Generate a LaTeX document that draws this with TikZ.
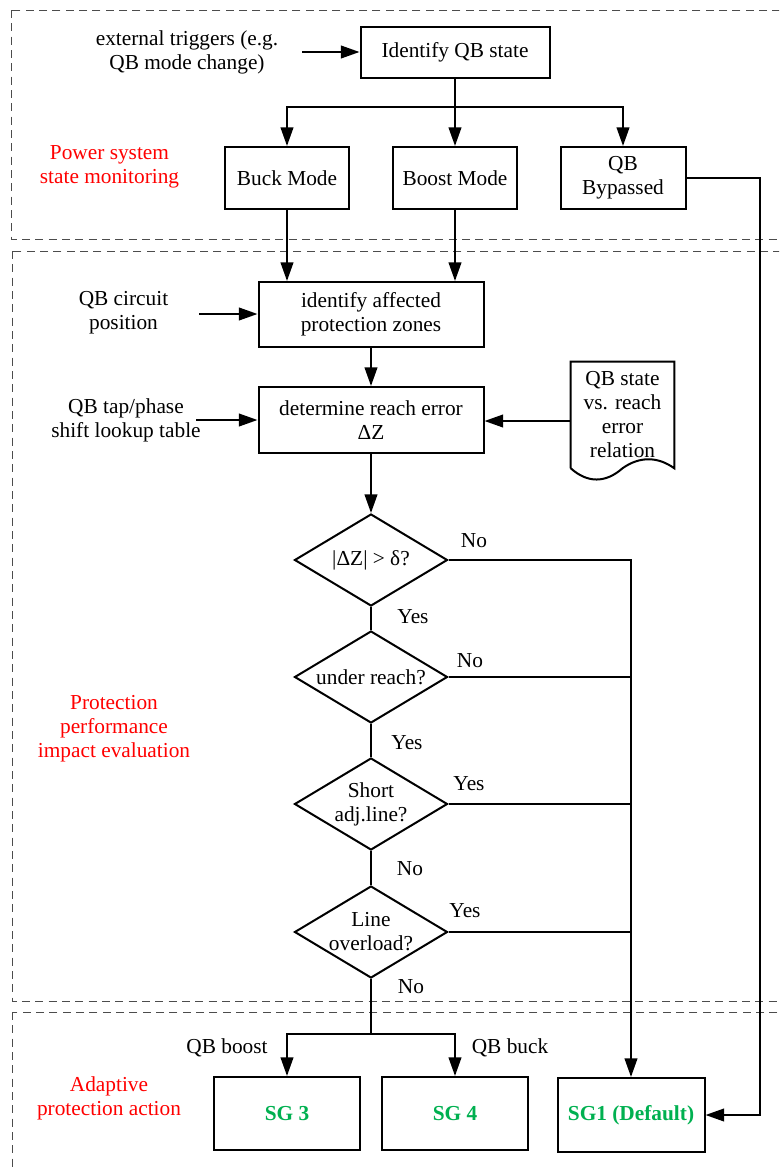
\documentclass[tikz,border=0pt]{standalone}
\usepackage{fontspec}
\setmainfont{Liberation Serif}
\usetikzlibrary{arrows.meta,shapes.geometric,calc}
\definecolor{sgreen}{HTML}{00B050}
\definecolor{sred}{HTML}{FF0000}
\begin{document}
\begin{tikzpicture}[x=0.75pt,y=-0.75pt,
  font=\fontsize{16}{18}\selectfont,
  box/.style={draw, line width=1.5pt, inner sep=2pt, align=center},
  dia/.style={draw, shape=diamond, line width=1.5pt, inner sep=0pt, aspect=1.66,
              minimum width=114.75pt, minimum height=69pt, align=center},
  lbl/.style={align=center, inner sep=0pt},
  redlbl/.style={align=center, inner sep=0pt, text=sred},
  sgtext/.style={font=\fontsize{16}{18}\selectfont\bfseries, text=sgreen},
  conn/.style={line width=1.5pt},
  arr/.style={conn, -{Triangle[length=14pt,width=9.5pt]}},
  frame/.style={dash pattern=on 6pt off 4pt, line width=0.75pt, black!70}]
\useasboundingbox (0,0) rectangle (779,1171);
\begin{scope}
  \clip (0,0) rectangle (779,1171);
  \draw[frame] (11,10) rectangle (820,239);
  \draw[frame] (12,251) rectangle (820,1001);
  \draw[frame] (12,1012) rectangle (820,1200);
\end{scope}

% red section labels
\node[redlbl] (sec1) at (109.5,167) {Power system\\state monitoring};
\node[redlbl] (sec2) at (114,729) {Protection\\performance\\impact evaluation};
\node[redlbl] (sec3) at (109,1098) {Adaptive\\protection action};

% top section
\node[lbl] (ext) at (187,52) {external triggers (e.g.\\QB mode change)};
\node[box, minimum width=141.75pt, minimum height=38.25pt] (idqb) at (455,52) {Identify QB state};
\node[box, minimum width=93pt, minimum height=46.5pt] (buck) at (287,178) {Buck Mode};
\node[box, minimum width=93pt, minimum height=46.5pt] (boost) at (455,178) {Boost Mode};
\node[box, minimum width=93.75pt, minimum height=46.5pt] (byp) at (623,178) {QB\\Bypassed};
\coordinate (extin) at (302,52);
\coordinate (split1) at (455,107);
\coordinate (rx) at (760,0);

% middle section
\node[lbl] (qbc) at (123.5,313) {QB circuit\\position};
\node[lbl] (qbt) at (126,420) {QB tap/phase\\shift lookup table};
\node[box, minimum width=168.75pt, minimum height=48.75pt] (iaz) at (371,314.5) {identify affected\\protection zones};
\node[box, minimum width=168.75pt, minimum height=49.5pt] (dre) at (371,420) {determine reach error\\ΔZ};
\node[align=center, inner sep=0pt, minimum width=77.25pt, minimum height=79.5pt] (doc) at (622.5,415) {QB state\\vs. reach\\error\\relation};
\draw[line width=1.5pt] (doc.south west) -- (doc.north west) -- (doc.north east) -- (doc.south east)
  .. controls ($(doc.south)+(35,-12)$) and ($(doc.south)+(17,-12)$) .. (doc.south)
  .. controls ($(doc.south)+(-17,15)$) and ($(doc.south)+(-35,15)$) .. (doc.south west);
\coordinate (qbcin) at (199,314);
\coordinate (qbtin) at (196,420);

\node[dia] (d1) at (371,560) {|ΔZ| > δ?};
\node[dia] (d2) at (371,677) {under reach?};
\node[dia] (d3) at (371,804) {Short\\adj.line?};
\node[dia] (d4) at (371,932) {Line\\overload?};

\node[lbl] (l1) at (474,541) {No};
\node[lbl] (l2) at (413,617) {Yes};
\node[lbl] (l3) at (470,661) {No};
\node[lbl] (l4) at (407,743) {Yes};
\node[lbl] (l5) at (469,784) {Yes};
\node[lbl] (l6) at (410,869) {No};
\node[lbl] (l7) at (465,911) {Yes};
\node[lbl] (l8) at (411,987) {No};

% bottom section
\coordinate (split2) at (371,1034);
\node[lbl] (lb) at (227,1048) {QB boost};
\node[lbl] (lk) at (510,1048) {QB buck};
\node[box, sgtext, minimum width=109.5pt, minimum height=54.75pt] (sg3) at (287,1113.5) {SG 3};
\node[box, sgtext, minimum width=109.5pt, minimum height=54.75pt] (sg4) at (455,1113.5) {SG 4};
\node[box, sgtext, minimum width=110.25pt, minimum height=55.5pt] (sg1) at (631,1115) {SG1 (Default)};

% connectors
\draw[arr] (extin) -- (extin -| idqb.west);
\draw[conn] (idqb.south) -- (split1);
\draw[arr] (split1) -| (buck.north);
\draw[arr] (split1) -| (byp.north);
\draw[arr] (split1) -- (boost.north);
\draw[arr] (buck.south) -- (buck.south |- iaz.north);
\draw[arr] (boost.south) -- (boost.south |- iaz.north);
\draw[arr] (byp.east) -- (byp.east -| rx) -- (rx |- sg1.east) -- (sg1.east);
\draw[arr] (qbcin) -- (qbcin -| iaz.west);
\draw[arr] (iaz.south) -- (dre.north);
\draw[arr] (qbtin) -- (qbtin -| dre.west);
\draw[arr] ([yshift=-4.5pt]doc.west) -- ([yshift=-4.5pt]doc.west -| dre.east);
\draw[arr] (dre.south) -- (d1.north);
\draw[conn] (d1.south) -- (d2.north);
\draw[conn] (d2.south) -- (d3.north);
\draw[conn] (d3.south) -- (d4.north);
\draw[arr] (d1.east) -| (sg1.north);
\draw[conn] (d2.east) -- (d2.east -| sg1.north);
\draw[conn] (d3.east) -- (d3.east -| sg1.north);
\draw[conn] (d4.east) -- (d4.east -| sg1.north);
\draw[conn] (d4.south) -- (split2);
\draw[arr] (split2) -| (sg3.north);
\draw[arr] (split2) -| (sg4.north);
\end{tikzpicture}
\end{document}
